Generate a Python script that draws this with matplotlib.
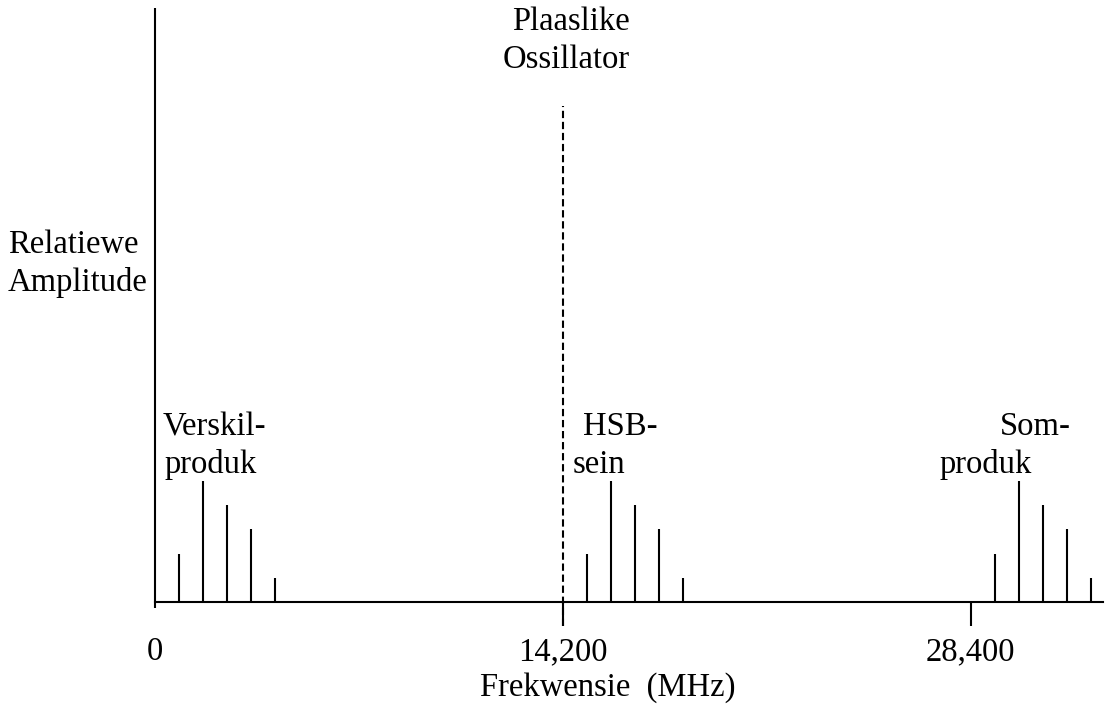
import matplotlib
import numpy as np
import matplotlib.pyplot as plt

matplotlib.use('Agg')

plt.rcParams['font.family'] = ['Liberation Serif', 'DejaVu Serif']

# Frekwensies (MHz) en relatiewe amplitudes
lo_freq = 14200
sum_freq = 28400
offsets = [835, 1670, 2505, 3340, 4175]
amplitudes = [2, 5, 4, 3, 1]
group_bases = [0, lo_freq, sum_freq]
lo_height = 20.5

tick_values = [0, 14200, 28400]
tick_labels = ["0", "14,200", "28,400"]

W, H = 1106, 704
fig = plt.figure(figsize=(W / 100, H / 100), dpi=100)
ax = fig.add_axes([155 / W, (H - 602) / H, (1103 - 155) / W, (602 - 8) / H])
ax.set_xlim(0, 33000)
ax.set_ylim(0, 24.55)
for s in ["top", "right"]:
    ax.spines[s].set_visible(False)
ax.spines["left"].set_visible(False)
ax.spines["bottom"].set_linewidth(1.5)

fs = 23.5
lw = 1.5

# y-as lyn (steek effens onder die x-as uit)
ax.plot([0, 0], [-0.25, 24.55], color="black", lw=lw, clip_on=False,
        solid_capstyle="butt")

# spektrumlyne
for base in group_bases:
    xs = [base + o for o in offsets]
    ax.vlines(xs, 0, amplitudes, color="black", lw=lw)

# plaaslike ossillator
ax.plot([lo_freq, lo_freq], [-1, lo_height], color="black", lw=lw,
        linestyle=(0, (3.5, 1.8)), clip_on=False)

ax.set_yticks([])
ax.set_xticks(tick_values)
ax.set_xticklabels(tick_labels, fontsize=fs)
ax.tick_params(axis="x", direction="out", length=17.5, width=lw, pad=7.5)
ax.xaxis.get_major_ticks()[0].tick1line.set_markersize(0)
ax.set_xlabel("Frekwensie  (MHz)", fontsize=fs)
ax.xaxis.set_label_coords((608 - 155) / 948, -0.119)


def px(x, y):
    return x / W, 1 - y / H


kw = dict(fontsize=fs, transform=fig.transFigure, va="center")
fig.text(*px(8, 245), "Relatiewe", ha="left", **kw)
fig.text(*px(8, 283), "Amplitude", ha="left", **kw)
fig.text(*px(571, 22), "Plaaslike", ha="center", **kw)
fig.text(*px(566, 60), "Ossillator", ha="center", **kw)
fig.text(*px(163, 427), "Verskil-", ha="left", **kw)
fig.text(*px(165, 465), "produk", ha="left", **kw)
fig.text(*px(583, 427), "HSB-", ha="left", **kw)
fig.text(*px(573, 465), "sein", ha="left", **kw)
fig.text(*px(1000, 427), "Som-", ha="left", **kw)
fig.text(*px(940, 465), "produk", ha="left", **kw)

fig.savefig("out.png", dpi=100)
